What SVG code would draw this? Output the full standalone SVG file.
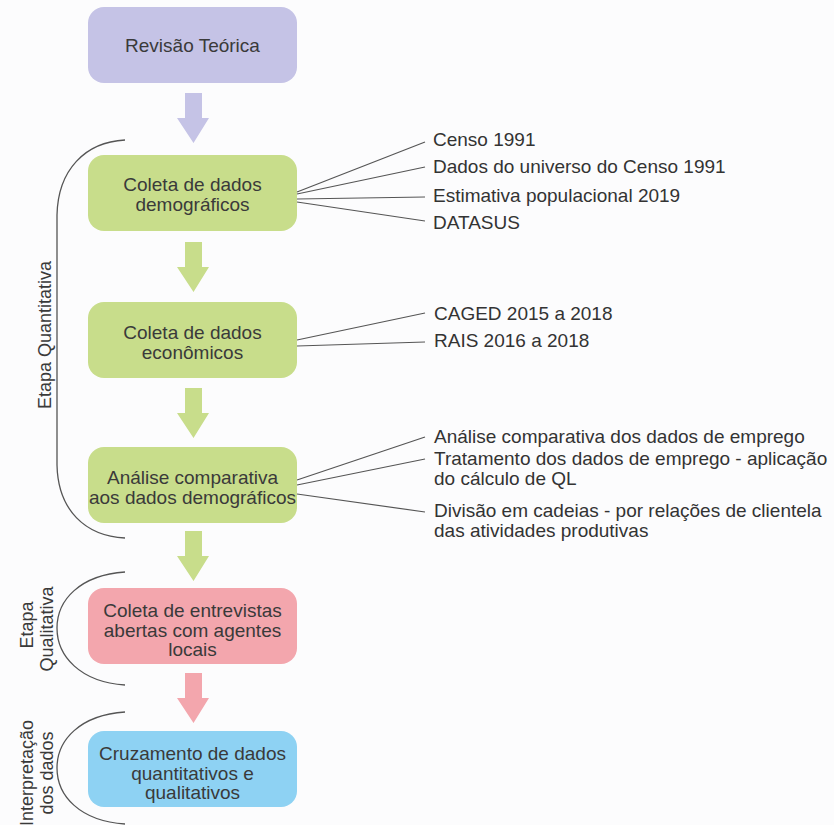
<svg xmlns="http://www.w3.org/2000/svg" width="834" height="825" viewBox="0 0 834 825">
  <style>
    .box text { font-family: "Liberation Sans", Arial, sans-serif; font-size: 19px; fill: #3a3a3a; text-anchor: middle; }
    .lbl { font-family: "Liberation Sans", Arial, sans-serif; font-size: 19px; fill: #333333; }
    .side { font-family: "Liberation Sans", Arial, sans-serif; font-size: 18px; fill: #3a3a3a; text-anchor: middle; }
    .ln { stroke: #555555; stroke-width: 1.2; fill: none; }
    .br { stroke: #555555; stroke-width: 1.3; fill: none; }
  </style>
  <defs>
    <path id="arr" d="M185,0 H202 V25 H209 L193.5,50 L177,25 H185 Z"/>
  </defs>
  <rect width="834" height="825" fill="#fcfcfd"/>

  <g id="connectors">
    <use href="#arr" transform="translate(0,93)" fill="#c5c3e6"/>
    <use href="#arr" transform="translate(0,242)" fill="#c8dd8b"/>
    <use href="#arr" transform="translate(0,388)" fill="#c8dd8b"/>
    <use href="#arr" transform="translate(0,531)" fill="#c8dd8b"/>
    <use href="#arr" transform="translate(0,673)" fill="#f3a6ad"/>
    <line class="ln" x1="297" y1="192" x2="425" y2="142"/>
    <line class="ln" x1="297" y1="194" x2="425" y2="167"/>
    <line class="ln" x1="297" y1="199" x2="425" y2="197"/>
    <line class="ln" x1="297" y1="202" x2="425" y2="221"/>
    <line class="ln" x1="297" y1="340" x2="425" y2="313"/>
    <line class="ln" x1="297" y1="346" x2="425" y2="342"/>
    <line class="ln" x1="297" y1="480" x2="425" y2="437"/>
    <line class="ln" x1="297" y1="485" x2="425" y2="459"/>
    <line class="ln" x1="297" y1="494" x2="425" y2="512"/>
  </g>

  <g id="brackets">
    <path class="br" d="M125,140 C85,142 58,170 57,215 L57,465 C58,510 85,536 125,538"/>
    <path class="br" d="M125,572 C80,575 57,600 57,628 C57,656 80,682 125,685"/>
    <path class="br" d="M125,712 C80,715 57,740 57,768 C57,796 80,821 125,824"/>
    <text class="side" transform="translate(51,335) rotate(-90)">Etapa Quantitativa</text>
    <text class="side" transform="translate(33,625) rotate(-90)">Etapa</text>
    <text class="side" transform="translate(53,629) rotate(-90)">Qualitativa</text>
    <text class="side" transform="translate(33,773) rotate(-90)">Interpretação</text>
    <text class="side" transform="translate(53,773) rotate(-90)">dos dados</text>
  </g>

  <g id="revisao" class="box">
    <rect x="88" y="7" width="209" height="76" rx="16" fill="#c5c3e6"/>
    <text x="192.5" y="52">Revisão Teórica</text>
  </g>
  <g id="demograficos" class="box">
    <rect x="88" y="155" width="209" height="76" rx="16" fill="#c8dd8b"/>
    <text x="192.5" y="191">Coleta de dados</text>
    <text x="192.5" y="211">demográficos</text>
  </g>
  <g id="economicos" class="box">
    <rect x="88" y="302" width="209" height="76" rx="16" fill="#c8dd8b"/>
    <text x="192.5" y="339">Coleta de dados</text>
    <text x="192.5" y="359">econômicos</text>
  </g>
  <g id="analise" class="box">
    <rect x="88" y="447" width="209" height="76" rx="16" fill="#c8dd8b"/>
    <text x="192.5" y="484">Análise comparativa</text>
    <text x="192.5" y="504">aos dados demográficos</text>
  </g>
  <g id="entrevistas" class="box">
    <rect x="88" y="588" width="209" height="76" rx="16" fill="#f3a6ad"/>
    <text x="192.5" y="617">Coleta de entrevistas</text>
    <text x="192.5" y="637">abertas com agentes</text>
    <text x="192.5" y="656">locais</text>
  </g>
  <g id="cruzamento" class="box">
    <rect x="88" y="731" width="209" height="76" rx="16" fill="#8ed2f3"/>
    <text x="192.5" y="760">Cruzamento de dados</text>
    <text x="192.5" y="780">quantitativos e</text>
    <text x="192.5" y="799">qualitativos</text>
  </g>

  <g id="labels">
    <text class="lbl" x="433" y="146">Censo 1991</text>
    <text class="lbl" x="433" y="173">Dados do universo do Censo 1991</text>
    <text class="lbl" x="433" y="202">Estimativa populacional 2019</text>
    <text class="lbl" x="433" y="229">DATASUS</text>
    <text class="lbl" x="434" y="320">CAGED 2015 a 2018</text>
    <text class="lbl" x="434" y="347">RAIS 2016 a 2018</text>
    <text class="lbl" x="434" y="443">Análise comparativa dos dados de emprego</text>
    <text class="lbl" x="434" y="465">Tratamento dos dados de emprego - aplicação</text>
    <text class="lbl" x="434" y="485">do cálculo de QL</text>
    <text class="lbl" x="434" y="517">Divisão em cadeias - por relações de clientela</text>
    <text class="lbl" x="434" y="537">das atividades produtivas</text>
  </g>
</svg>
